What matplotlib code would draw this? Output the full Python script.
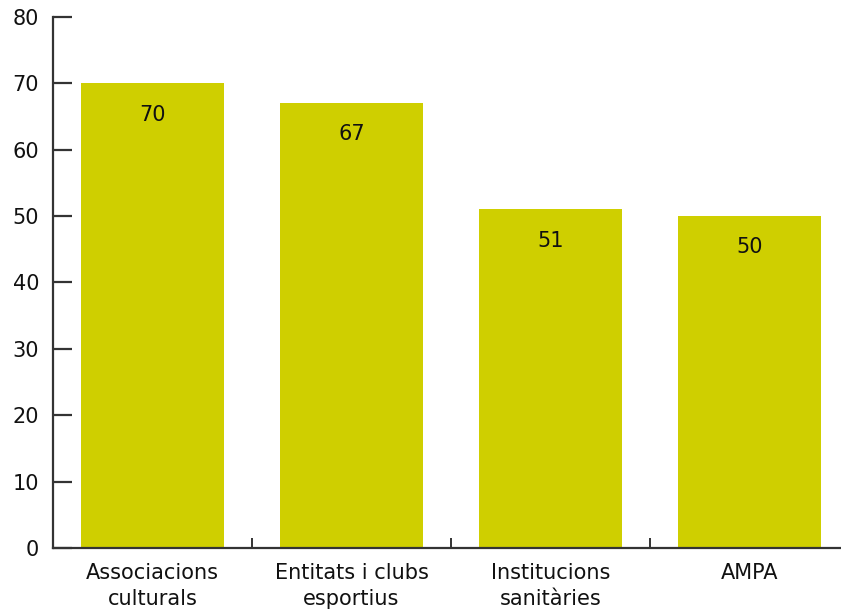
import matplotlib
matplotlib.use("Agg")
import matplotlib.pyplot as plt
from matplotlib.ticker import FixedLocator

categories = ["Associacions\nculturals", "Entitats i clubs\nesportius", "Institucions\nsanitàries", "AMPA"]
values = [70, 67, 51, 50]
y_ticks = [0, 10, 20, 30, 40, 50, 60, 70, 80]

W, H = 841, 614
fig = plt.figure(figsize=(W / 100, H / 100), dpi=100)
ax = fig.add_axes([53 / W, (H - 548) / H, (W - 53) / W, (548 - 17) / H])

bar_color = "#CFCF00"
axis_color = "#333333"
text_color = "#111111"
fs = 15
x = list(range(len(categories)))
ax.bar(x, values, width=0.72, color=bar_color, zorder=1)

for xi, v in zip(x, values):
    ax.text(xi, v - 4.7, f"{v}", ha="center", va="center", fontsize=fs,
            color=text_color, family="DejaVu Sans")

ax.set_xlim(-0.5, 3.46)
ax.set_ylim(0, 80)

for side in ("top", "right"):
    ax.spines[side].set_visible(False)
for side in ("left", "bottom"):
    ax.spines[side].set_color(axis_color)
    ax.spines[side].set_linewidth(1.6)
    ax.spines[side].set_zorder(3)

ax.set_yticks(y_ticks)
ax.tick_params(axis="y", direction="in", length=14, width=1.6, color=axis_color,
               labelsize=fs, labelcolor=text_color, pad=10)
ax.set_xticks(x)
ax.set_xticklabels(categories)
ax.tick_params(axis="x", which="major", length=0, labelsize=fs, labelcolor=text_color, pad=11)
ax.xaxis.set_minor_locator(FixedLocator([0.5, 1.5, 2.5]))
ax.tick_params(axis="x", which="minor", direction="in", length=7, width=1.4, color=axis_color)
for lbl in ax.get_xticklabels():
    lbl.set_linespacing(1.38)

fig.savefig("out.png", dpi=100)
